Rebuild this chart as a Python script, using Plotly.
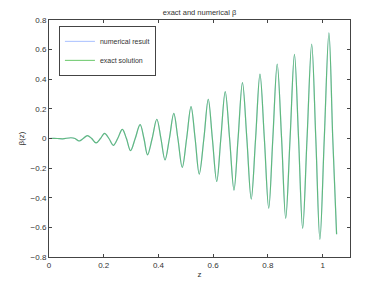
import plotly.graph_objects as go

# Read-off points (extrema and zero crossings) of beta(z)
z = [0.0, 0.03, 0.05, 0.08, 0.095, 0.11, 0.125, 0.14, 0.156, 0.172, 0.188, 0.203,
     0.219, 0.235, 0.251, 0.268, 0.283, 0.298, 0.315, 0.333, 0.347, 0.36, 0.377,
     0.394, 0.409, 0.424, 0.440, 0.456, 0.471, 0.487, 0.503, 0.519, 0.534, 0.549,
     0.566, 0.582, 0.597, 0.613, 0.628, 0.644, 0.66, 0.676, 0.691, 0.707, 0.723,
     0.739, 0.755, 0.771, 0.787, 0.803, 0.818, 0.834, 0.85, 0.865, 0.881, 0.897,
     0.912, 0.927, 0.943, 0.960, 0.975, 0.990, 1.006, 1.023, 1.037, 1.051]
beta_exact = [0.0, 0.0, -0.002, 0.005, 0.0, -0.017, 0.0, 0.02, 0.0, -0.03, 0.0, 0.035,
              0.0, -0.046, 0.0, 0.062, 0.0, -0.082, 0.0, 0.093, 0.0, -0.11, 0.0,
              0.13, 0.0, -0.145, 0.0, 0.17, 0.0, -0.195, 0.0, 0.215, 0.0, -0.24,
              0.0, 0.265, 0.0, -0.29, 0.0, 0.316, 0.0, -0.348, 0.0, 0.377, 0.0,
              -0.409, 0.0, 0.435, 0.0, -0.471, 0.0, 0.503, 0.0, -0.539, 0.0, 0.568,
              0.0, -0.607, 0.0, 0.638, 0.0, -0.681, 0.0, 0.714, 0.0, -0.647]
beta_numerical = list(beta_exact)

x_ticks = [0, 0.2, 0.4, 0.6, 0.8, 1.0]
x_tick_labels = ["0", "0.2", "0.4", "0.6", "0.8", "1"]
y_ticks = [-0.8, -0.6, -0.4, -0.2, 0, 0.2, 0.4, 0.6, 0.8]
y_tick_labels = ["\u22120.8", "\u22120.6", "\u22120.4", "\u22120.2", "0", "0.2", "0.4", "0.6", "0.8"]

font = "Liberation Sans, Arial, sans-serif"
axis_col = "#444444"
text_col = "#333333"

fig = go.Figure()
fig.add_trace(go.Scatter(x=z, y=beta_numerical, mode="lines", name="numerical result",
                         line=dict(color="rgba(70,120,255,0.4)", width=1.2, shape="spline", smoothing=1.0)))
fig.add_trace(go.Scatter(x=z, y=beta_exact, mode="lines", name="exact solution",
                         line=dict(color="rgba(40,175,40,0.6)", width=1.2, shape="spline", smoothing=1.0)))

axis_common = dict(showgrid=False, zeroline=False, showline=True, linecolor=axis_col,
                   linewidth=1, mirror="ticks", ticks="inside", ticklen=3, automargin=False,
                   tickcolor=axis_col, tickfont=dict(family=font, size=8, color=text_col))

fig.update_layout(
    width=385, height=288,
    margin=dict(l=49, r=35, t=20, b=31, autoexpand=False),
    paper_bgcolor="white", plot_bgcolor="white",
    title=dict(text="exact and numerical \u03b2", x=(49 + 350) / 2 / 385, xanchor="center",
               y=1 - 12 / 288, yanchor="middle",
               font=dict(family=font, size=7.5, color=text_col)),
    xaxis=dict(range=[0, 1.1], tickvals=x_ticks, ticktext=x_tick_labels,
               title=dict(text="z", font=dict(family=font, size=8, color=text_col), standoff=2),
               **axis_common),
    yaxis=dict(range=[-0.8, 0.8], tickvals=y_ticks, ticktext=y_tick_labels,
               title=dict(text="\u03b2(z)", font=dict(family=font, size=8, color=text_col), standoff=4),
               **axis_common),
    legend=dict(x=0.033, y=0.975, xanchor="left", yanchor="top",
                bordercolor=axis_col, borderwidth=1, bgcolor="white",
                font=dict(family=font, size=7, color=text_col),
                itemwidth=30, tracegroupgap=0),
    showlegend=True,
)

fig.write_html("out.html", config={"displayModeBar": False},
               post_script="document.body.style.margin='0';document.body.style.padding='0';")
